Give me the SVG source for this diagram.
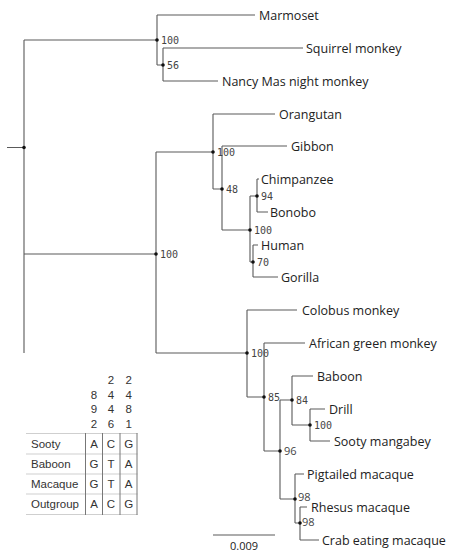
<svg xmlns="http://www.w3.org/2000/svg" width="452" height="552" viewBox="0 0 452 552">
<style>
.br{stroke:#5a5a5a;stroke-width:1.1;fill:none}
.dot{fill:#111}
.tx{font-family:"Open Sans","Liberation Sans",sans-serif;font-size:12.5px;fill:#222}
.bs{font-family:"DejaVu Sans Mono","Liberation Mono",monospace;font-size:10px;fill:#444}
.bs2{font-family:"Open Sans","Liberation Sans",sans-serif;font-size:11px;fill:#444}
.tb{font-family:"Liberation Sans","Open Sans",sans-serif;font-size:11.5px;fill:#333}
.hl{stroke:#cfcfcf;stroke-width:1}
.vl{stroke:#777;stroke-width:1}
</style>
<rect width="452" height="552" fill="#fff"/>
<g id="connectors">
<path class="br" d="M7,147.5H24 M24,40V353 M24,40H157 M157,15V65 M157,15H255 M157,65H163 M163,48V81 M163,48H303 M163,81H218
M24,254H156 M156,152V353 M156,152H213 M213,114V189 M213,114H275 M213,189H222 M222,146V230 M222,146H287 M222,230H250 M250,196V262 M250,196H257 M257,179V212 M257,179H259 M257,212H268 M250,262H253 M253,245V277 M253,245H258 M253,277H278
M156,353H247 M247,310V397 M247,310H297 M247,397H264 M264,343V451 M264,343H305 M264,451H280 M280,400V499 M280,400H292 M292,376V425 M292,376H313 M292,425H310 M310,409V441 M310,409H325 M310,441H330 M280,499H295 M295,474V523 M295,474H304 M295,523H300 M300,507V540 M300,507H307 M300,540H319"/>
</g>
<g id="root"><circle class="dot" cx="24" cy="147.5" r="1.8"/></g>
<g id="n1"><circle class="dot" cx="157" cy="40" r="1.8"/><text class="bs" x="161" y="43.5">100</text></g>
<g id="n2"><circle class="dot" cx="163" cy="65" r="1.8"/><text class="bs" x="167" y="68.5">56</text></g>
<g id="n3"><circle class="dot" cx="156" cy="254" r="1.8"/><text class="bs" x="160" y="257.5">100</text></g>
<g id="n4"><circle class="dot" cx="213" cy="152" r="1.8"/><text class="bs" x="217" y="155.5">100</text></g>
<g id="n5"><circle class="dot" cx="222" cy="189" r="1.8"/><text class="bs" x="226" y="192.5">48</text></g>
<g id="n6"><circle class="dot" cx="250" cy="230" r="1.8"/><text class="bs" x="254" y="233.5">100</text></g>
<g id="n7"><circle class="dot" cx="257" cy="196" r="1.8"/><text class="bs" x="261" y="199.5">94</text></g>
<g id="n8"><circle class="dot" cx="253" cy="262" r="1.8"/><text class="bs" x="257" y="265.5">70</text></g>
<g id="n9"><circle class="dot" cx="247" cy="353" r="1.8"/><text class="bs" x="251" y="356.5">100</text></g>
<g id="n10"><circle class="dot" cx="264" cy="397" r="1.8"/><text class="bs" x="268" y="400.5">85</text></g>
<g id="n11"><circle class="dot" cx="280" cy="451" r="1.8"/><text class="bs2" x="284" y="455">96</text></g>
<g id="n12"><circle class="dot" cx="292" cy="400" r="1.8"/><text class="bs" x="296" y="403.5">84</text></g>
<g id="n13"><circle class="dot" cx="310" cy="425" r="1.8"/><text class="bs" x="314" y="428.5">100</text></g>
<g id="n14"><circle class="dot" cx="295" cy="499" r="1.8"/><text class="bs2" x="298" y="501">98</text></g>
<g id="n15"><circle class="dot" cx="300" cy="523" r="1.8"/><text class="bs2" x="302" y="526">98</text></g>
<g id="taxa">
<text class="tx" x="259" y="19.5">Marmoset</text>
<text class="tx" x="306" y="52.5">Squirrel monkey</text>
<text class="tx" x="222" y="85.5">Nancy Mas night monkey</text>
<text class="tx" x="279" y="118.5">Orangutan</text>
<text class="tx" x="291" y="150.5">Gibbon</text>
<text class="tx" x="261" y="183.5">Chimpanzee</text>
<text class="tx" x="270" y="216.5">Bonobo</text>
<text class="tx" x="261" y="249.5">Human</text>
<text class="tx" x="281" y="281.5">Gorilla</text>
<text class="tx" x="302" y="314.5">Colobus monkey</text>
<text class="tx" x="309" y="347.5">African green monkey</text>
<text class="tx" x="317" y="380.5">Baboon</text>
<text class="tx" x="329" y="413.5">Drill</text>
<text class="tx" x="334" y="445.5">Sooty mangabey</text>
<text class="tx" x="307" y="478.5">Pigtailed macaque</text>
<text class="tx" x="311" y="511.5">Rhesus macaque</text>
<text class="tx" x="322" y="544.5">Crab eating macaque</text>
</g>
<g id="scale">
<line class="br" x1="213" y1="535" x2="275" y2="535"/>
<text class="tx" style="font-size:11px" x="244" y="550" text-anchor="middle">0.009</text>
</g>
<g id="table">
<g class="tb" text-anchor="middle">
<text x="111" y="384">2</text><text x="128.7" y="384">2</text>
<text x="94" y="398.5">8</text><text x="111" y="398.5">4</text><text x="128.7" y="398.5">4</text>
<text x="94" y="413">9</text><text x="111" y="413">4</text><text x="128.7" y="413">8</text>
<text x="94" y="427.5">2</text><text x="111" y="427.5">6</text><text x="128.7" y="427.5">1</text>
<text x="94" y="448">A</text><text x="111" y="448">C</text><text x="128.7" y="448">G</text>
<text x="94" y="468">G</text><text x="111" y="468">T</text><text x="128.7" y="468">A</text>
<text x="94" y="488">G</text><text x="111" y="488">T</text><text x="128.7" y="488">A</text>
<text x="94" y="508">A</text><text x="111" y="508">C</text><text x="128.7" y="508">G</text>
</g>
<g class="tb">
<text x="31" y="448">Sooty</text>
<text x="31" y="468">Baboon</text>
<text x="31" y="488">Macaque</text>
<text x="31" y="508">Outgroup</text>
</g>
<path class="hl" d="M26,433.5H137.5 M26,454H137.5 M26,474H137.5 M26,494H137.5 M26,514.5H137.5"/>
<path class="vl" d="M85.5,433V515 M102.5,433V515 M120,433V515 M137,433V515"/>
</g>
</svg>
